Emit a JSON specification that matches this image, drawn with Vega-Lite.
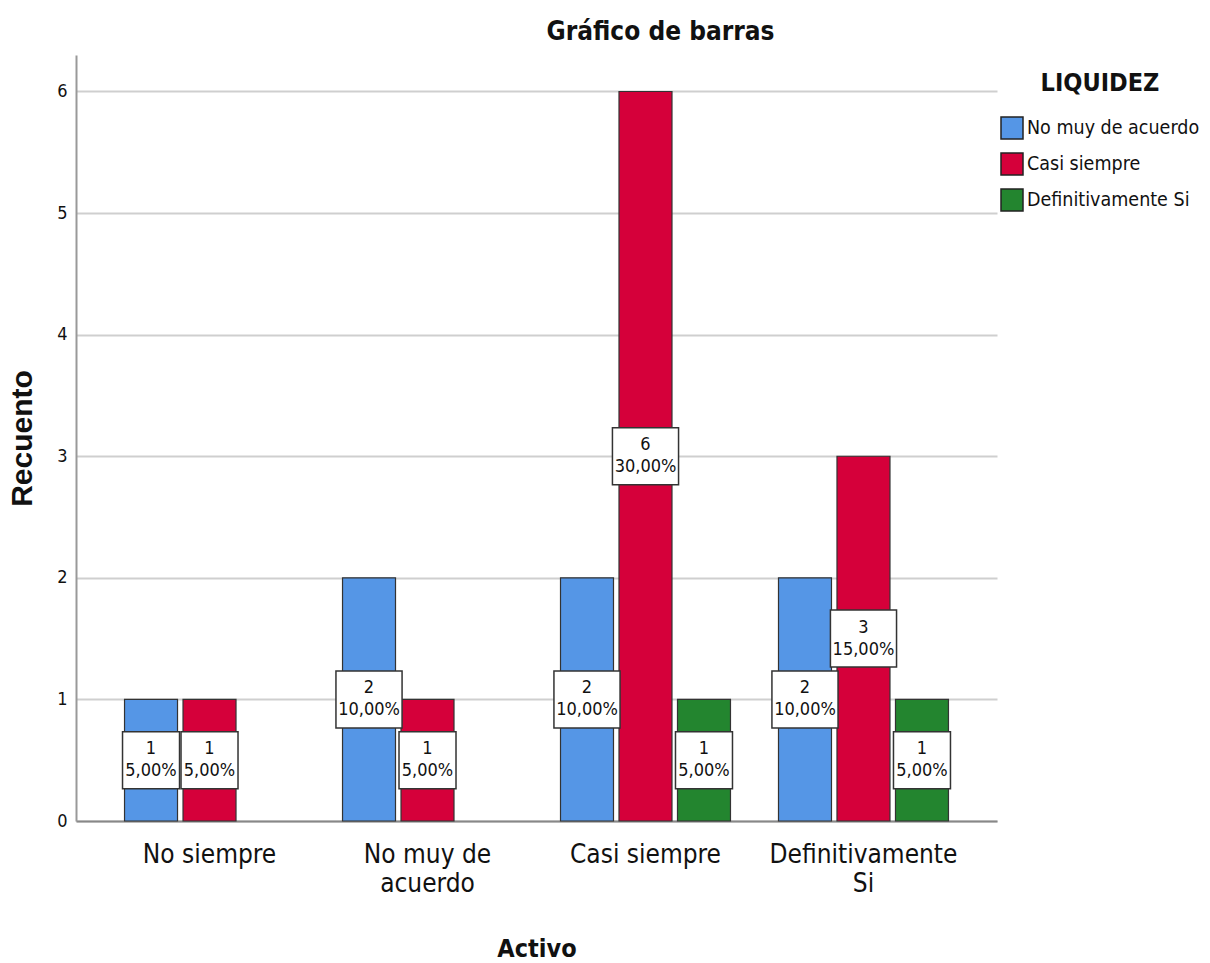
{
  "$schema": "https://vega.github.io/schema/vega-lite/v6.json",
  "autosize": "none",
  "padding": {"left": 76, "top": 55, "right": 213, "bottom": 142},
  "width": 921,
  "height": 766,
  "background": "white",
  "title": {
    "text": "Gráfico de barras",
    "font": "DejaVu Sans Condensed, Liberation Sans, sans-serif",
    "fontSize": 26,
    "fontWeight": "bold",
    "color": "#111",
    "anchor": "middle",
    "frame": "group",
    "dx": 124,
    "offset": 10
  },
  "data": {
    "values": [
      {"Activo": "No siempre", "LIQUIDEZ": "No muy de acuerdo", "count": 1, "pct": "5,00%"},
      {"Activo": "No siempre", "LIQUIDEZ": "Casi siempre", "count": 1, "pct": "5,00%"},
      {"Activo": "No muy de acuerdo", "LIQUIDEZ": "No muy de acuerdo", "count": 2, "pct": "10,00%"},
      {"Activo": "No muy de acuerdo", "LIQUIDEZ": "Casi siempre", "count": 1, "pct": "5,00%"},
      {"Activo": "Casi siempre", "LIQUIDEZ": "No muy de acuerdo", "count": 2, "pct": "10,00%"},
      {"Activo": "Casi siempre", "LIQUIDEZ": "Casi siempre", "count": 6, "pct": "30,00%"},
      {"Activo": "Casi siempre", "LIQUIDEZ": "Definitivamente  Si", "count": 1, "pct": "5,00%"},
      {"Activo": "Definitivamente Si", "LIQUIDEZ": "No muy de acuerdo", "count": 2, "pct": "10,00%"},
      {"Activo": "Definitivamente Si", "LIQUIDEZ": "Casi siempre", "count": 3, "pct": "15,00%"},
      {"Activo": "Definitivamente Si", "LIQUIDEZ": "Definitivamente  Si", "count": 1, "pct": "5,00%"}
    ]
  },
  "transform": [{"calculate": "datum.count / 2", "as": "mid"}],
  "encoding": {
    "x": {
      "field": "Activo",
      "type": "nominal",
      "sort": ["No siempre", "No muy de acuerdo", "Casi siempre", "Definitivamente Si"],
      "scale": {"paddingInner": 0.195, "paddingOuter": 0.21},
      "axis": {
        "title": "Activo",
        "titleFont": "DejaVu Sans Condensed, Liberation Sans, sans-serif",
        "titleFontSize": 25,
        "titleFontWeight": "bold",
        "titleColor": "#111",
        "titleY": 127,
        "titleBaseline": "middle",
        "labelFont": "DejaVu Sans Condensed, Liberation Sans, sans-serif",
        "labelFontSize": 26,
        "labelLineHeight": 29,
        "labelColor": "#111",
        "labelAngle": 0,
        "labelPadding": 20,
        "labelLimit": 400,
        "labelExpr": "datum.label == 'No muy de acuerdo' ? ['No muy de', 'acuerdo'] : datum.label == 'Definitivamente Si' ? ['Definitivamente', 'Si'] : datum.label",
        "ticks": false,
        "domainColor": "#888",
        "domainWidth": 2,
        "grid": false
      }
    },
    "xOffset": {
      "field": "LIQUIDEZ",
      "type": "nominal",
      "scale": {"domain": ["No muy de acuerdo", "Casi siempre", "Definitivamente  Si"], "paddingInner": 0.094, "paddingOuter": 0.047}
    }
  },
  "layer": [
    {
      "mark": {"type": "bar", "stroke": "#333", "strokeWidth": 1.2},
      "encoding": {
        "y": {
          "field": "count",
          "type": "quantitative",
          "scale": {"domain": [0, 6.3], "nice": false},
          "axis": {
            "title": "Recuento",
            "titleFont": "Liberation Sans, sans-serif",
            "titleFontSize": 30,
            "titleFontWeight": "bold",
            "titleColor": "#111",
            "titleX": -54,
            "titleY": 383,
            "titleBaseline": "middle",
            "values": [0, 1, 2, 3, 4, 5, 6],
            "format": "d",
            "labelFont": "DejaVu Sans Condensed, Liberation Sans, sans-serif",
            "labelFontSize": 18,
            "labelColor": "#111",
            "labelPadding": 9,
            "ticks": false,
            "domainColor": "#999",
            "domainWidth": 2,
            "gridColor": "#cfcfcf",
            "gridWidth": 2
          }
        },
        "color": {
          "field": "LIQUIDEZ",
          "type": "nominal",
          "scale": {"domain": ["No muy de acuerdo", "Casi siempre", "Definitivamente  Si"], "range": ["#5596E6", "#D5003A", "#23852F"]},
          "legend": {
            "title": "LIQUIDEZ",
            "orient": "none",
            "legendX": 924,
            "legendY": 16,
            "padding": 0,
            "titleFont": "DejaVu Sans Condensed, Liberation Sans, sans-serif",
            "titleFontSize": 25,
            "titleFontWeight": "bold",
            "titleColor": "#111",
            "titleAnchor": "middle",
            "titlePadding": 20,
            "labelFont": "DejaVu Sans Condensed, Liberation Sans, sans-serif",
            "labelFontSize": 19.5,
            "labelColor": "#111",
            "labelOffset": 3,
            "symbolType": "square",
            "symbolSize": 484,
            "symbolStrokeColor": "#222",
            "symbolStrokeWidth": 1.5,
            "symbolOpacity": 1,
            "rowPadding": 8,
            "labelLimit": 400
          }
        }
      }
    },
    {
      "transform": [{"filter": "datum.count < 2"}],
      "mark": {"type": "point", "shape": "square", "size": 3249, "fill": "white", "stroke": "#333", "strokeWidth": 1.5, "opacity": 1, "filled": false, "fillOpacity": 1},
      "encoding": {"y": {"field": "mid", "type": "quantitative"}}
    },
    {
      "transform": [{"filter": "datum.count >= 2"}],
      "mark": {"type": "point", "shape": "M-1.16,-1H1.16V1H-1.16Z", "size": 3249, "fill": "white", "stroke": "#333", "strokeWidth": 1.5, "opacity": 1, "filled": false, "fillOpacity": 1},
      "encoding": {"y": {"field": "mid", "type": "quantitative"}}
    },
    {
      "mark": {"type": "text", "font": "DejaVu Sans Condensed, Liberation Sans, sans-serif", "fontSize": 18, "color": "#111", "dy": -11, "baseline": "middle"},
      "encoding": {"y": {"field": "mid", "type": "quantitative"}, "text": {"field": "count"}}
    },
    {
      "mark": {"type": "text", "font": "DejaVu Sans Condensed, Liberation Sans, sans-serif", "fontSize": 18, "color": "#111", "dy": 11, "baseline": "middle"},
      "encoding": {"y": {"field": "mid", "type": "quantitative"}, "text": {"field": "pct"}}
    }
  ],
  "config": {"view": {"stroke": null}}
}
